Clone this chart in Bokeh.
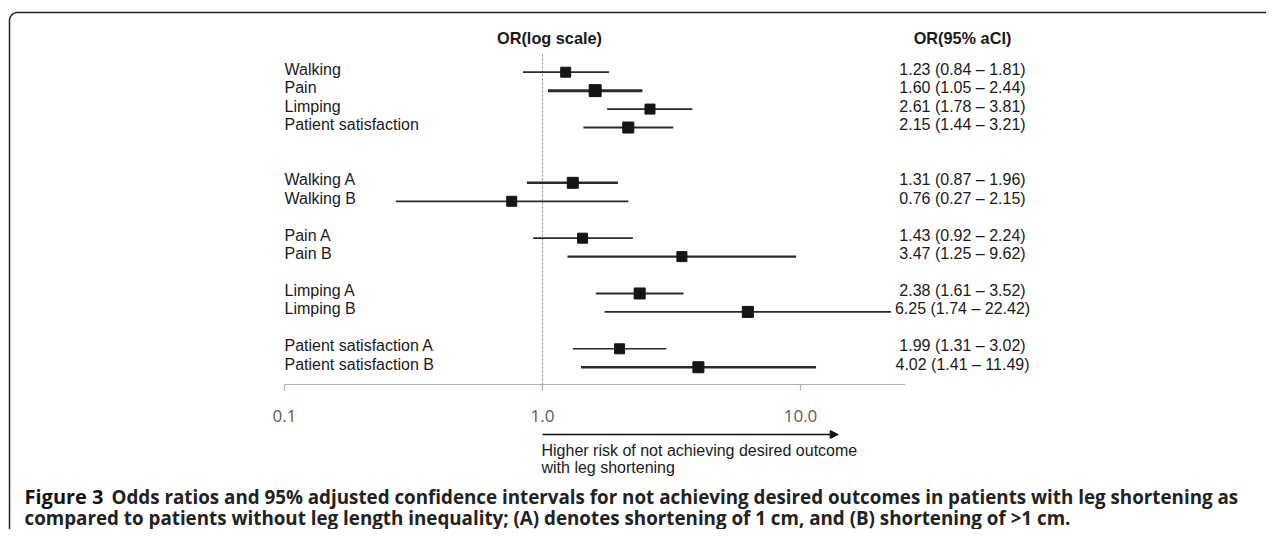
import math
from bokeh.plotting import figure
from bokeh.models import Range1d, Arrow, NormalHead
from bokeh.core.properties import value
from bokeh.embed import file_html
from bokeh.resources import INLINE

# ---------------- data ----------------
groups = [
    ["Walking", "Pain", "Limping", "Patient satisfaction"],
    ["Walking A", "Walking B"],
    ["Pain A", "Pain B"],
    ["Limping A", "Limping B"],
    ["Patient satisfaction A", "Patient satisfaction B"],
]
odds_ratio = [1.23, 1.60, 2.61, 2.15, 1.31, 0.76, 1.43, 3.47, 2.38, 6.25, 1.99, 4.02]
ci_low = [0.84, 1.05, 1.78, 1.44, 0.87, 0.27, 0.92, 1.25, 1.61, 1.74, 1.31, 1.41]
ci_high = [1.81, 2.44, 3.81, 3.21, 1.96, 2.15, 2.24, 9.62, 3.52, 22.42, 3.02, 11.49]
tick_values = [0.1, 1.0, 10.0]
tick_labels = ["0.1", "1.0", "10.0"]
axis_end = 25.5
arrow_end = 14.0
header_left = "OR(log scale)"
header_right = "OR(95% aCI)"
arrow_text = ["Higher risk of not achieving desired outcome", "with leg shortening"]
caption_head = "Figure 3"
caption_line1 = ("Odds ratios and 95% adjusted confidence intervals for not achieving "
                 "desired outcomes in patients with leg shortening as")
caption_line2 = ("compared to patients without leg length inequality; (A) denotes "
                 "shortening of 1 cm, and (B) shortening of >1 cm.")

# ---------------- styles ----------------
ci_line_width = [1.8, 3.0, 1.8, 2.2, 2.5, 1.7, 1.7, 2.4, 1.8, 1.8, 1.6, 2.5]
square_size = [10, 12, 10, 11, 11, 10, 10, 10, 11, 11, 10, 11]
LABEL_FONT = value("Liberation Sans")

# ---------------- layout helpers ----------------
W, H = 1266, 529
PX_ONE = 542.0   # x (px) of OR = 1
DEC = 258.0      # px per decade
ROW0 = 71.7      # y (px from top) of first row
ROWH = 18.44     # px per row


def xd(fx):
    return 10 ** ((fx - PX_ONE) / DEC)


def yd(fy):
    return (fy - ROW0) / ROWH


labels = []
rows = []
r = 0
for gi, g in enumerate(groups):
    if gi == 1:
        r += 2
    elif gi > 1:
        r += 1
    for lab in g:
        labels.append(lab)
        rows.append(r)
        r += 1

p = figure(width=W, height=H, x_axis_type="log",
           x_range=Range1d(xd(0), xd(W)), y_range=Range1d(yd(H), yd(0)),
           x_axis_location=None, y_axis_location=None,
           toolbar_location=None, output_backend="svg",
           min_border=0, outline_line_color=None)
p.grid.visible = False
p.background_fill_color = "white"
p.border_fill_color = "white"

# frame with rounded top-left corner
fx, fy = [], []
fx.append(9); fy.append(600)
fx.append(9); fy.append(20)
for k in range(0, 11):
    a = math.pi + (math.pi / 2) * k / 10
    fx.append(17 + 8 * math.cos(a)); fy.append(20 + 8 * math.sin(a))
fx.append(1300); fy.append(12)
p.line([xd(v) for v in fx], [yd(v) for v in fy], line_color="#222222", line_width=1.5)

# headers
for hx, htxt in ((549, header_left), (962, header_right)):
    p.text(x=[xd(hx)], y=[yd(37)], text=[htxt], text_font=LABEL_FONT,
           text_font_style="bold", text_font_size=value("16.3px"), text_color="#1a1a1a",
           text_align="center", text_baseline="middle")

# reference line at OR = 1
p.segment(x0=[1.0], x1=[1.0], y0=[yd(54)], y1=[yd(390)],
          line_color="#888888", line_width=1, line_dash="2 2")

# confidence intervals and point estimates
p.segment(x0=ci_low, x1=ci_high, y0=rows, y1=rows, line_color="#2b2b2b",
          line_width=ci_line_width)
p.scatter(x=odds_ratio, y=rows, marker="square", size=square_size,
          fill_color="#151515", line_color="#151515")

# row labels
p.text(x=[xd(284)] * len(labels), y=rows, text=labels, text_font=LABEL_FONT,
       text_font_size=value("16px"), text_color="#1a1a1a",
       text_align="left", text_baseline="middle", y_offset=-3)

# value labels
value_text = [f"{o:.2f} ({lo:.2f} \u2013 {hi:.2f})" for o, lo, hi in zip(odds_ratio, ci_low, ci_high)]
p.text(x=[xd(962)] * len(value_text), y=rows, text=value_text, text_font=LABEL_FONT,
       text_font_size=value("16px"), text_color="#1a1a1a",
       text_align="center", text_baseline="middle", y_offset=-3)

# x axis (drawn)
axis_y = yd(384)
p.segment(x0=[tick_values[0]], x1=[axis_end], y0=[axis_y], y1=[axis_y],
          line_color="#b0b0b0", line_width=1.2)
p.segment(x0=tick_values, x1=tick_values, y0=[axis_y] * 3, y1=[yd(390)] * 3,
          line_color="#b0b0b0", line_width=1.2)
p.text(x=tick_values, y=[yd(415)] * 3, text=tick_labels, text_font=value("Open Sans"),
       text_font_size=value("17px"), text_color="#5a5a5a",
       text_align="center", text_baseline="middle")

# direction arrow
ay = yd(434)
p.add_layout(Arrow(x_start=1.0, y_start=ay, x_end=arrow_end, y_end=ay,
                   line_color="#111111", line_width=1.5,
                   end=NormalHead(size=8, fill_color="#111111", line_color="#111111")))
p.text(x=[xd(541)] * 2, y=[yd(450), yd(467)], text=arrow_text,
       text_font=LABEL_FONT, text_font_size=value("16px"), text_color="#1a1a1a",
       text_align="left", text_baseline="middle")

# caption
CAP_FONT = value("Open Sans")
p.text(x=[xd(24)], y=[yd(496)], text=[caption_head], text_font=CAP_FONT,
       text_font_style="bold", text_font_size=value("20px"), text_color="#111111",
       text_align="left", text_baseline="middle")
p.text(x=[xd(111)], y=[yd(496)], text=[caption_line1], text_font=CAP_FONT,
       text_font_style="bold", text_font_size=value("18.8px"), text_color="#222222",
       text_align="left", text_baseline="middle")
p.text(x=[xd(24)], y=[yd(517)], text=[caption_line2], text_font=CAP_FONT,
       text_font_style="bold", text_font_size=value("18.8px"), text_color="#222222",
       text_align="left", text_baseline="middle")

open("out.html", "w").write(file_html(p, INLINE))
